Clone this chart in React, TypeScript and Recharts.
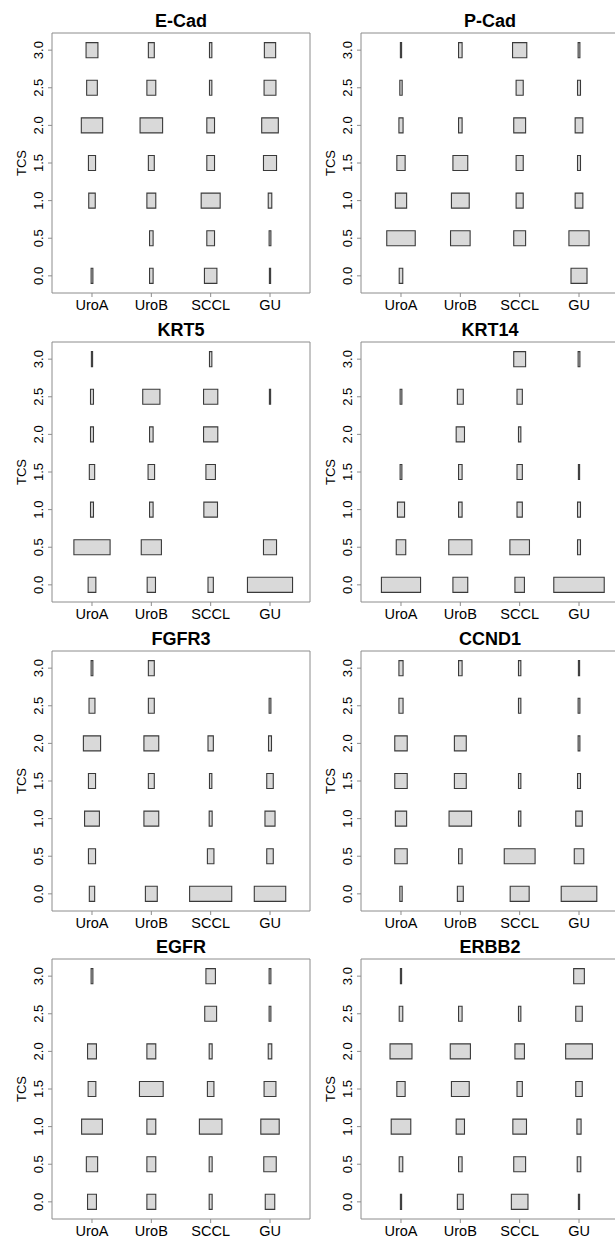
import { ComposedChart, ReferenceArea, Scatter, XAxis, YAxis } from 'recharts';

const CATEGORIES = ['UroA', 'UroB', 'SCCL', 'GU'];
const TCS_LEVELS = [0, 0.5, 1, 1.5, 2, 2.5, 3];

// share (%) of each group at each TCS level, rows = CATEGORIES, cols = TCS_LEVELS
const E_CAD = [
  [3, 0, 11, 12, 36, 18, 20],
  [6, 6, 15, 10, 38, 15, 10],
  [21, 13, 32, 13, 13, 4, 4],
  [2, 3, 6, 22, 28, 20, 19],
];
const P_CAD = [
  [6, 48, 19, 14, 7, 4, 2],
  [0, 33, 30, 25, 6, 0, 6],
  [0, 20, 12, 12, 20, 12, 24],
  [27, 34, 13, 5, 13, 5, 3],
];
const KRT5 = [
  [13, 61, 5, 9, 5, 5, 2],
  [14, 34, 6, 11, 6, 29, 0],
  [9, 0, 23, 16, 24, 24, 4],
  [76, 22, 0, 0, 0, 2, 0],
];
const KRT14 = [
  [66, 16, 12, 3, 0, 3, 0],
  [25, 39, 6, 6, 14, 10, 0],
  [16, 33, 9, 9, 4, 9, 20],
  [85, 5, 5, 2, 0, 0, 3],
];
const FGFR3 = [
  [9, 12, 25, 12, 29, 10, 3],
  [20, 0, 25, 10, 25, 10, 10],
  [71, 11, 5, 4, 9, 0, 0],
  [53, 11, 17, 11, 5, 3, 0],
];
const CCND1 = [
  [4, 21, 19, 21, 21, 7, 7],
  [10, 6, 38, 20, 20, 0, 6],
  [32, 52, 4, 4, 0, 4, 4],
  [60, 16, 11, 5, 3, 3, 2],
];
const EGFR = [
  [15, 19, 35, 13, 15, 0, 3],
  [15, 15, 15, 40, 15, 0, 0],
  [5, 5, 38, 11, 5, 20, 16],
  [16, 21, 31, 20, 6, 3, 3],
];
const ERBB2 = [
  [2, 6, 33, 14, 37, 6, 2],
  [10, 6, 14, 30, 34, 6, 0],
  [28, 20, 23, 9, 16, 4, 0],
  [2, 6, 7, 11, 45, 11, 18],
];

const GENES = [
  { name: 'E-Cad', shares: E_CAD },
  { name: 'P-Cad', shares: P_CAD },
  { name: 'KRT5', shares: KRT5 },
  { name: 'KRT14', shares: KRT14 },
  { name: 'FGFR3', shares: FGFR3 },
  { name: 'CCND1', shares: CCND1 },
  { name: 'EGFR', shares: EGFR },
  { name: 'ERBB2', shares: ERBB2 },
];

const X_DOMAIN: [number, number] = [0.326, 4.674];
const Y_DOMAIN: [number, number] = [-0.228, 3.228];
const HALF_H = 0.1;
const FONT = '"Liberation Sans", Arial, Helvetica, sans-serif';

function TcsTick({ x, y, payload }: any) {
  return (
    <text
      transform={`translate(${x - 3},${y}) rotate(-90)`}
      textAnchor="middle"
      fontSize={13}
      fill="#000"
      fontFamily={FONT}
    >
      {Number(payload.value).toFixed(1)}
    </text>
  );
}

function Panel({ name, shares, left, top }: { name: string; shares: number[][]; left: number; top: number }) {
  const cells: { x: number; y: number; w: number }[] = [];
  shares.forEach((row, ci) => {
    row.forEach((pct, li) => {
      if (pct > 0) cells.push({ x: ci + 1, y: TCS_LEVELS[li], w: pct / 100 });
    });
  });

  return (
    <div style={{ position: 'absolute', left, top, width: 320, height: 325 }}>
      <div style={{
        position: 'absolute', left: 52, width: 258, top: 11, textAlign: 'center',
        fontWeight: 700, fontSize: 18, lineHeight: '21px', color: '#000',
      }}>{name}</div>
      <div style={{
        position: 'absolute', left: 22, top: 163, transform: 'translate(-50%,-50%) rotate(-90deg)',
        fontSize: 13, lineHeight: '14px', color: '#000',
      }}>TCS</div>
      <div style={{ position: 'absolute', left: 0, top: 0 }}>
        <ComposedChart width={320} height={325} margin={{ top: 33, right: 10, bottom: 2, left: 0 }}>
          <XAxis
            type="number"
            dataKey="x"
            domain={X_DOMAIN}
            ticks={[1, 2, 3, 4]}
            interval={0}
            allowDataOverflow
            tickFormatter={(v) => CATEGORIES[Math.round(v) - 1]}
            axisLine={false}
            tickLine={{ stroke: '#8c8c8c' }}
            tickSize={4}
            tickMargin={3}
            height={30}
            tick={{ fontSize: 14.5, fill: '#000', fontFamily: FONT }}
          />
          <YAxis
            type="number"
            dataKey="y"
            domain={Y_DOMAIN}
            ticks={TCS_LEVELS}
            interval={0}
            allowDataOverflow
            axisLine={false}
            tickLine={{ stroke: '#8c8c8c' }}
            tickSize={4}
            width={52}
            tick={<TcsTick />}
          />
          <ReferenceArea
            x1={X_DOMAIN[0]} x2={X_DOMAIN[1]} y1={Y_DOMAIN[0]} y2={Y_DOMAIN[1]}
            fill="none" stroke="#8c8c8c" strokeWidth={1} ifOverflow="visible"
          />
          {cells.map((c, i) => (
            <ReferenceArea
              key={i}
              x1={c.x - c.w / 2}
              x2={c.x + c.w / 2}
              y1={c.y - HALF_H}
              y2={c.y + HALF_H}
              fill="#d9d9d9"
              fillOpacity={1}
              stroke="#3a3a3a"
              strokeWidth={1.1}
              ifOverflow="visible"
            />
          ))}
          <Scatter data={cells} isAnimationActive={false} shape={() => <g />} />
        </ComposedChart>
      </div>
    </div>
  );
}

export default function App() {
  return (
    <div style={{
      position: 'absolute', left: 0, top: 0, width: 615, height: 1238, overflow: 'hidden',
      background: '#fff', fontFamily: FONT,
    }}>
      {GENES.map((g, i) => (
        <Panel
          key={g.name}
          name={g.name}
          shares={g.shares}
          left={(i % 2) * 309}
          top={[0, 309, 618, 926][Math.floor(i / 2)]}
        />
      ))}
    </div>
  );
}
